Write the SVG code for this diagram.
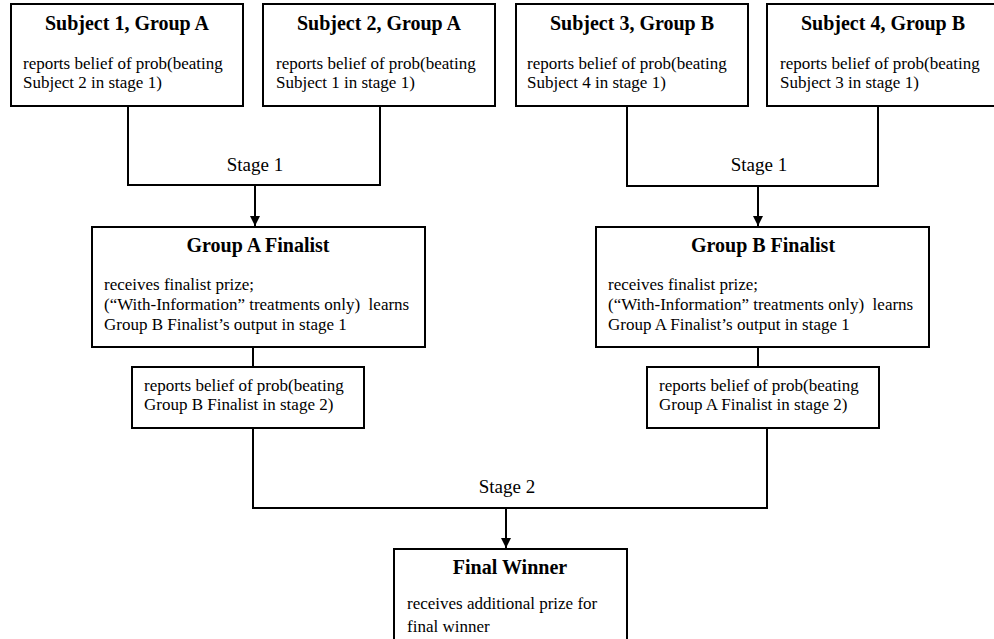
<svg xmlns="http://www.w3.org/2000/svg" width="994" height="639" viewBox="0 0 994 639">
<style>
  .box { fill: #fff; stroke: #000; stroke-width: 2; }
  .title { font-family: "Liberation Serif", "Times New Roman", serif; font-weight: bold; font-size: 20px; text-anchor: middle; fill: #000; }
  .body { font-family: "Liberation Serif", "Times New Roman", serif; font-size: 17px; fill: #000; }
  .stage { font-family: "Liberation Serif", "Times New Roman", serif; font-size: 19px; text-anchor: middle; fill: #000; }
  .conn { fill: none; stroke: #000; stroke-width: 2; }
</style>
<defs>
  <marker id="arrow" markerUnits="userSpaceOnUse" markerWidth="10" markerHeight="11" refX="10" refY="5" orient="auto">
    <path d="M0,0 L10,5 L0,10 Z" fill="#000"/>
  </marker>
</defs>
<rect width="994" height="639" fill="#fff"/>

<g id="connectors">
  <path class="conn" d="M128,106 V185 H380 V106"/>
  <path class="conn" d="M255,185 V226" marker-end="url(#arrow)"/>
  <path class="conn" d="M627,106 V186 H878 V106"/>
  <path class="conn" d="M758,186 V226" marker-end="url(#arrow)"/>
  <path class="conn" d="M253,347 V367"/>
  <path class="conn" d="M758,347 V367"/>
  <path class="conn" d="M253,428 V508 H767 V428"/>
  <path class="conn" d="M506,508 V548" marker-end="url(#arrow)"/>
  <text class="stage" x="255" y="171">Stage 1</text>
  <text class="stage" x="759" y="171">Stage 1</text>
  <text class="stage" x="507" y="493">Stage 2</text>
</g>

<g id="subject1">
  <rect class="box" x="11" y="4" width="232" height="102"/>
  <text class="title" x="127" y="30">Subject 1, Group A</text>
  <text class="body" x="23" y="69">reports belief of prob(beating</text>
  <text class="body" x="23" y="88">Subject 2 in stage 1)</text>
</g>
<g id="subject2">
  <rect class="box" x="263" y="4" width="232" height="102"/>
  <text class="title" x="379" y="30">Subject 2, Group A</text>
  <text class="body" x="276" y="69">reports belief of prob(beating</text>
  <text class="body" x="276" y="88">Subject 1 in stage 1)</text>
</g>
<g id="subject3">
  <rect class="box" x="516" y="4" width="232" height="102"/>
  <text class="title" x="632" y="30">Subject 3, Group B</text>
  <text class="body" x="527" y="69">reports belief of prob(beating</text>
  <text class="body" x="527" y="88">Subject 4 in stage 1)</text>
</g>
<g id="subject4">
  <rect class="box" x="767" y="4" width="232" height="102"/>
  <text class="title" x="883" y="30">Subject 4, Group B</text>
  <text class="body" x="780" y="69">reports belief of prob(beating</text>
  <text class="body" x="780" y="88">Subject 3 in stage 1)</text>
</g>

<g id="finalistA">
  <rect class="box" x="92" y="227" width="333" height="120"/>
  <text class="title" x="258" y="252">Group A Finalist</text>
  <text class="body" x="104" y="290">receives finalist prize;</text>
  <text class="body" x="104" y="310" xml:space="preserve">(“With-Information” treatments only)  learns</text>
  <text class="body" x="104" y="330">Group B Finalist’s output in stage 1</text>
</g>
<g id="reportA">
  <rect class="box" x="132" y="367" width="232" height="61"/>
  <text class="body" x="144" y="391">reports belief of prob(beating</text>
  <text class="body" x="144" y="410">Group B Finalist in stage 2)</text>
</g>

<g id="finalistB">
  <rect class="box" x="596" y="227" width="333" height="120"/>
  <text class="title" x="763" y="252">Group B Finalist</text>
  <text class="body" x="608" y="290">receives finalist prize;</text>
  <text class="body" x="608" y="310" xml:space="preserve">(“With-Information” treatments only)  learns</text>
  <text class="body" x="608" y="330">Group A Finalist’s output in stage 1</text>
</g>
<g id="reportB">
  <rect class="box" x="647" y="367" width="232" height="61"/>
  <text class="body" x="659" y="391">reports belief of prob(beating</text>
  <text class="body" x="659" y="410">Group A Finalist in stage 2)</text>
</g>

<g id="finalWinner">
  <rect class="box" x="394" y="549" width="233" height="110"/>
  <text class="title" x="510" y="574">Final Winner</text>
  <text class="body" x="407" y="609">receives additional prize for</text>
  <text class="body" x="407" y="632">final winner</text>
</g>
</svg>
